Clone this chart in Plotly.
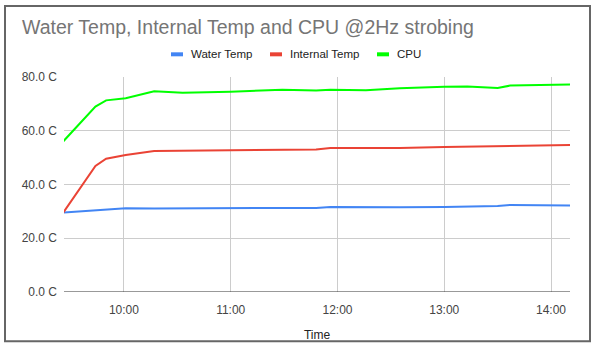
import plotly.graph_objects as go

times = ["09:26", "09:44", "09:50", "10:01", "10:17", "10:33", "11:00", "11:29",
         "11:48", "11:56", "12:16", "12:35", "13:00", "13:13", "13:30", "13:37", "14:11"]
water_temp = [29.6, 30.4, 30.6, 31.2, 31.1, 31.1, 31.2, 31.2, 31.3, 31.6, 31.5, 31.5,
              31.6, 31.7, 32.0, 32.4, 32.2]
internal_temp = [29.6, 46.9, 49.6, 51.0, 52.5, 52.6, 52.8, 52.9, 53.0, 53.6, 53.6, 53.6,
                 54.0, 54.1, 54.2, 54.3, 54.7]
cpu = [56.1, 69.0, 71.3, 72.1, 74.7, 74.1, 74.5, 75.3, 75.0, 75.3, 75.1, 75.8,
       76.4, 76.5, 75.9, 76.8, 77.2]
series_names = ["Water Temp", "Internal Temp", "CPU"]
series_colors = ["#4285f4", "#ea4335", "#00ff00"]
y_ticks = [0, 20, 40, 60, 80]
y_ticktext = ["%.1f C" % v for v in y_ticks]

x = ["2021-01-01 " + t for t in times]

fig = go.Figure()
for name, vals, col in zip(series_names, [water_temp, internal_temp, cpu], series_colors):
    fig.add_trace(go.Scatter(x=x, y=vals, name=name, mode="lines",
                             line=dict(color=col, width=2), showlegend=False))

W, H = 595, 351
L, R, T, B = 64, 25, 77, 56
pw, ph = W - L - R, H - T - B

def px(xp):
    return (xp - L) / pw

def py(yp):
    return (H - B - yp) / ph

fig.update_layout(
    width=W, height=H,
    margin=dict(l=L, r=R, t=T, b=B),
    paper_bgcolor="white", plot_bgcolor="white",
    font=dict(family="Liberation Sans, Arial, sans-serif", color="#444444"),
    title=dict(text="Water Temp, Internal Temp and CPU @2Hz strobing",
               x=22 / W, xref="container", xanchor="left",
               y=1 - 27 / H, yref="container", yanchor="middle",
               font=dict(size=19.5, color="#757575")),
    showlegend=False,
    xaxis=dict(type="date", range=["2021-01-01 09:26:20", "2021-01-01 14:10:40"],
               tick0="2021-01-01 10:00", dtick=3600000, tickformat="%H:%M",
               showgrid=True, gridcolor="#cccccc", gridwidth=1, zeroline=False,
               showline=False, ticks="", tickfont=dict(size=12, color="#444444"),
               ticklabelstandoff=9,
               title=dict(text="Time", font=dict(size=12, color="#222222"), standoff=14)),
    yaxis=dict(range=[0, 80], tickvals=y_ticks, ticktext=y_ticktext,
               showgrid=True, gridcolor="#cccccc", gridwidth=1, zeroline=False,
               showline=False, ticks="", tickfont=dict(size=12, color="#444444"),
               ticklabelstandoff=6),
)

# baseline at 0
fig.add_shape(type="line", xref="paper", yref="y", x0=0, x1=1, y0=0, y1=0,
              line=dict(color="#333333", width=1))
# outer border
fig.add_shape(type="rect", xref="paper", yref="paper",
              x0=px(5), x1=px(590), y0=py(345), y1=py(5),
              line=dict(color="#666666", width=2), layer="above")

# legend (Google-Charts style short bars)
legend_bar_x = [171, 270, 377]
legend_y = 54
for name, col, bx in zip(series_names, series_colors, legend_bar_x):
    fig.add_shape(type="line", xref="paper", yref="paper",
                  x0=px(bx), x1=px(bx + 12), y0=py(legend_y), y1=py(legend_y),
                  line=dict(color=col, width=4))
    fig.add_annotation(xref="paper", yref="paper", x=px(bx + 18), y=py(legend_y),
                       xanchor="left", yanchor="middle", text=name, showarrow=False,
                       font=dict(size=11.5, color="#222222"))

fig.write_html("out.html")
